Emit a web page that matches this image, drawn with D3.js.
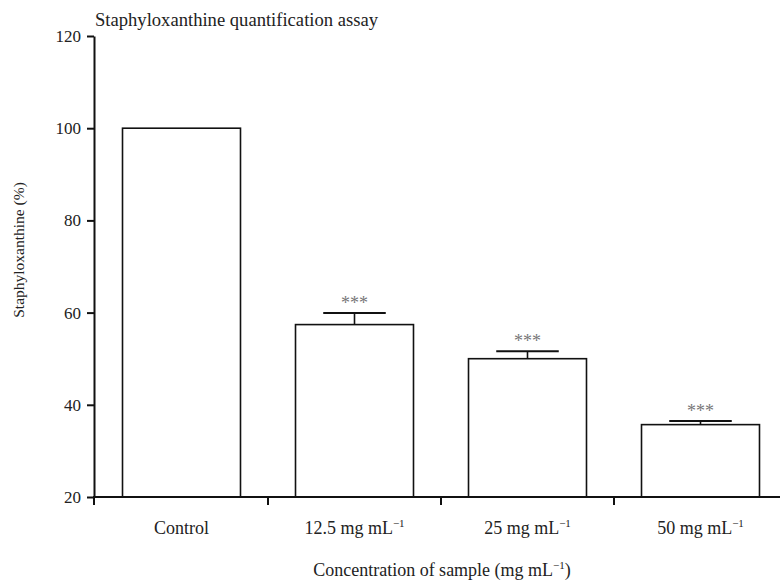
<!DOCTYPE html>
<html><head><meta charset="utf-8">
<script src="https://cdn.jsdelivr.net/npm/d3@7"></script>
<style>
html,body{margin:0;padding:0;background:#fff;}
svg{display:block;}
text{font-family:"Liberation Serif","Times New Roman",serif;fill:#222;}
</style></head>
<body>
<svg id="chart" width="780" height="583"></svg>
<script>
const categories = ["Control", "12.5 mg mL", "25 mg mL", "50 mg mL"];
const superscripts = ["", "\u22121", "\u22121", "\u22121"];
const values = [100, 57.4, 50.0, 35.7];
const errors = [0, 2.5, 1.6, 0.8];
const significance = ["", "***", "***", "***"];
const yTicks = [20, 40, 60, 80, 100, 120];

const svg = d3.select("#chart");
const x = d3.scaleBand().domain(categories).range([95, 787]).paddingInner(0.318).paddingOuter(0.159);
const y = d3.scaleLinear().domain([20, 120]).range([497, 36]);
const axisX = 94;

// title
svg.append("text").attr("x", 95).attr("y", 26).attr("font-size", 18.6).text("Staphyloxanthine quantification assay");

// bars
svg.selectAll("rect.bar").data(values).enter().append("rect")
  .attr("class", "bar")
  .attr("x", (d, i) => x(categories[i]))
  .attr("y", d => y(d))
  .attr("width", x.bandwidth())
  .attr("height", d => y(20) - y(d))
  .attr("fill", "#fff").attr("stroke", "#111").attr("stroke-width", 1.6);

// error bars
const capW = x.bandwidth() * 0.53;
values.forEach((v, i) => {
  if (!errors[i]) return;
  const cx = x(categories[i]) + x.bandwidth() / 2;
  svg.append("line").attr("x1", cx).attr("x2", cx).attr("y1", y(v)).attr("y2", y(v + errors[i]))
    .attr("stroke", "#111").attr("stroke-width", 1.6);
  svg.append("line").attr("x1", cx - capW / 2).attr("x2", cx + capW / 2).attr("y1", y(v + errors[i])).attr("y2", y(v + errors[i]))
    .attr("stroke", "#111").attr("stroke-width", 2);
  svg.append("text").attr("x", cx).attr("y", y(v + errors[i]) - 4).attr("text-anchor", "middle")
    .attr("font-size", 18).style("fill", "#777").text(significance[i]);
});

// y axis
const yAxis = svg.append("g").attr("transform", `translate(${axisX},0)`)
  .call(d3.axisLeft(y).tickValues(yTicks).tickSize(7).tickPadding(6).tickSizeOuter(0));
yAxis.select(".domain").attr("stroke", "#111").attr("stroke-width", 2);
yAxis.selectAll(".tick line").attr("stroke", "#111").attr("stroke-width", 2);
yAxis.selectAll(".tick text").attr("font-size", 17).style("fill", "#222");
svg.append("line").attr("x1", axisX).attr("x2", axisX).attr("y1", y(20)).attr("y2", y(20) + 8)
  .attr("stroke", "#111").attr("stroke-width", 2);

// x axis
svg.append("line").attr("x1", axisX - 1).attr("x2", 780).attr("y1", y(20)).attr("y2", y(20))
  .attr("stroke", "#111").attr("stroke-width", 2.2);
const step = x.step();
const bounds = d3.range(1, categories.length).map(i => x.range()[0] + i * step);
svg.selectAll("line.xtick").data(bounds).enter().append("line")
  .attr("x1", d => d).attr("x2", d => d).attr("y1", y(20)).attr("y2", y(20) + 8)
  .attr("stroke", "#111").attr("stroke-width", 2);

categories.forEach((c, i) => {
  const t = svg.append("text").attr("x", x(c) + x.bandwidth() / 2).attr("y", 534)
    .attr("text-anchor", "middle").attr("font-size", 18);
  t.append("tspan").text(c);
  if (superscripts[i]) t.append("tspan").attr("dy", -7).attr("font-size", 11).text(superscripts[i]);
});

// axis titles
const xt = svg.append("text").attr("x", 442).attr("y", 576).attr("text-anchor", "middle").attr("font-size", 18);
xt.append("tspan").text("Concentration of sample (mg mL");
xt.append("tspan").attr("dy", -7).attr("font-size", 11).text("\u22121");
xt.append("tspan").attr("dy", 7).text(")");

svg.append("text").attr("transform", "translate(24,250) rotate(-90)").attr("text-anchor", "middle")
  .attr("font-size", 15.5).text("Staphyloxanthine (%)");
</script>
</body></html>
